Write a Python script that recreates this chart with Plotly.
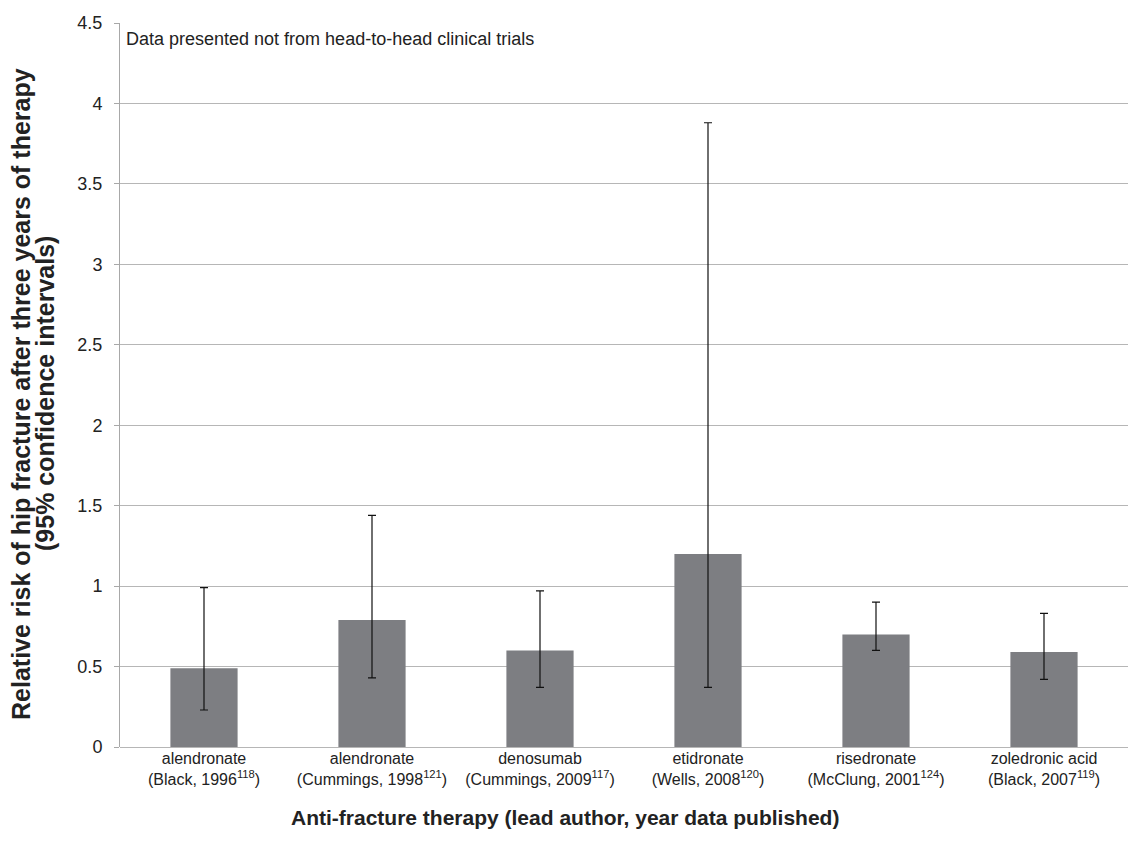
import plotly.graph_objects as go

drugs = ["alendronate", "alendronate", "denosumab", "etidronate", "risedronate", "zoledronic acid"]
refs = ["(Black, 1996<sup>118</sup>)", "(Cummings, 1998<sup>121</sup>)", "(Cummings, 2009<sup>117</sup>)",
        "(Wells, 2008<sup>120</sup>)", "(McClung, 2001<sup>124</sup>)", "(Black, 2007<sup>119</sup>)"]
rr = [0.49, 0.79, 0.60, 1.20, 0.70, 0.59]
ci_low = [0.23, 0.43, 0.37, 0.37, 0.60, 0.42]
ci_high = [0.99, 1.44, 0.97, 3.88, 0.90, 0.83]
y_ticks = [0, 0.5, 1, 1.5, 2, 2.5, 3, 3.5, 4, 4.5]
y_tick_text = ["0", "0.5", "1", "1.5", "2", "2.5", "3", "3.5", "4", "4.5"]

cats = [f"{d}<br>{r}" for d, r in zip(drugs, refs)]
err_plus = [h - v for h, v in zip(ci_high, rr)]
err_minus = [v - l for l, v in zip(ci_low, rr)]

FONT = "Liberation Sans, Arial, sans-serif"
TXT = "#222222"
GRID = "#b6b6b6"

fig = go.Figure()
fig.add_trace(go.Bar(
    x=cats, y=rr,
    marker=dict(color="#7d7e82", line=dict(width=0)),
    error_y=dict(type="data", symmetric=False, array=err_plus, arrayminus=err_minus,
                 color="#111111", thickness=1.2, width=4),
    width=0.4,
))

fig.update_layout(
    width=1128, height=844,
    margin=dict(l=120, r=0, t=23, b=97),
    paper_bgcolor="white", plot_bgcolor="white",
    showlegend=False,
    font=dict(family=FONT, color=TXT),
    xaxis=dict(
        tickfont=dict(size=16, color=TXT),
        showline=False, showgrid=False, ticks="",
        automargin=False,
    ),
    yaxis=dict(
        range=[0, 4.5], tickvals=y_ticks, ticktext=y_tick_text,
        tickfont=dict(size=18, color=TXT),
        showgrid=True, gridcolor=GRID, gridwidth=1,
        showline=True, linecolor="#a8a8a8", linewidth=1,
        ticks="outside", ticklen=5, tickcolor="#a8a8a8",
        ticklabelstandoff=8,
        zeroline=True, zerolinecolor=GRID, zerolinewidth=1,
        automargin=False,
    ),
    annotations=[
        dict(text="Data presented not from head-to-head clinical trials",
             xref="paper", yref="paper", x=0, y=1, xanchor="left", yanchor="top",
             xshift=4, yshift=-4, showarrow=False,
             font=dict(size=18, color=TXT, family=FONT)),
        dict(text="<b>Relative risk of hip fracture after three years of therapy</b>",
             xref="paper", yref="paper", x=0, y=0.5, xanchor="center", yanchor="middle",
             xshift=-99, yshift=-9, textangle=-90, showarrow=False,
             font=dict(size=25, color=TXT, family=FONT)),
        dict(text="<b>(95% confidence intervals)</b>",
             xref="paper", yref="paper", x=0, y=0.5, xanchor="center", yanchor="middle",
             xshift=-75, yshift=-9, textangle=-90, showarrow=False,
             font=dict(size=25, color=TXT, family=FONT)),
        dict(text="<b>Anti-fracture therapy (lead author, year data published)</b>",
             xref="paper", yref="paper", x=0.441, y=0, xanchor="center", yanchor="middle",
             yshift=-70, showarrow=False,
             font=dict(size=21, color=TXT, family=FONT)),
    ],
)

fig.write_html("out.html", config={"displayModeBar": False},
               post_script="document.body.style.margin='0';document.body.style.overflow='hidden';")
